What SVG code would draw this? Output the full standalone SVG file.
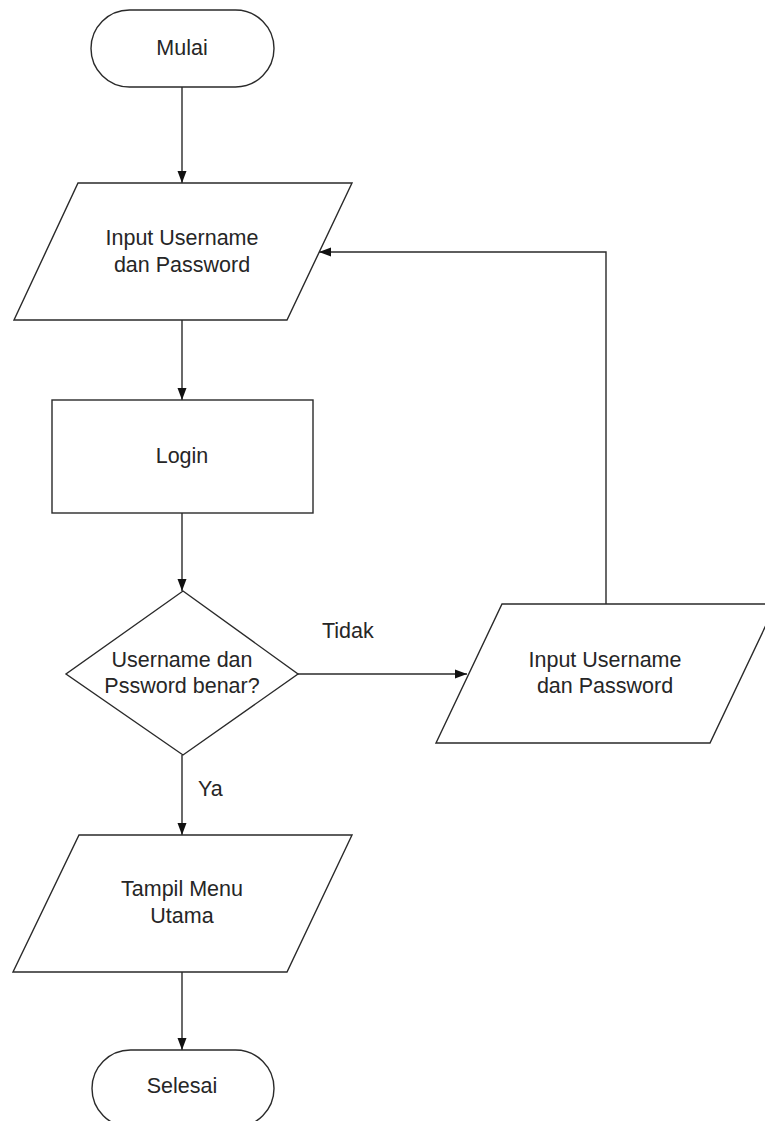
<svg xmlns="http://www.w3.org/2000/svg" width="765" height="1121" viewBox="0 0 765 1121">
<style>
.s{fill:#fff;stroke:#2a2a2a;stroke-width:1.4}
.t{font-family:"Liberation Sans",Arial,sans-serif;font-size:21.5px;fill:#262626;text-anchor:middle}
.l{font-family:"Liberation Sans",Arial,sans-serif;font-size:21.5px;fill:#262626}
.c{fill:none;stroke:#2a2a2a;stroke-width:1.4}
</style>
<defs>
<marker id="a" markerWidth="12" markerHeight="10" refX="12" refY="5" orient="auto" markerUnits="userSpaceOnUse">
<path d="M0,0.5 L12,5 L0,9.5 Z" fill="#111"/>
</marker>
</defs>
<rect width="765" height="1121" fill="#fff"/>
<g id="connectors">
<line class="c" x1="182" y1="87" x2="182" y2="183" marker-end="url(#a)"/>
<line class="c" x1="182" y1="320" x2="182" y2="400" marker-end="url(#a)"/>
<line class="c" x1="182" y1="513" x2="182" y2="591" marker-end="url(#a)"/>
<line class="c" x1="298" y1="674" x2="467" y2="674" marker-end="url(#a)"/>
<polyline class="c" points="606,604 606,252 319,252" marker-end="url(#a)"/>
<line class="c" x1="182" y1="755" x2="182" y2="835" marker-end="url(#a)"/>
<line class="c" x1="182" y1="972" x2="182" y2="1050" marker-end="url(#a)"/>
<text class="l" x="322" y="638">Tidak</text>
<text class="l" x="198" y="796">Ya</text>
</g>
<g id="mulai">
<rect class="s" x="91" y="10" width="183" height="77" rx="38.5" ry="38.5"/>
<text class="t" x="182" y="55">Mulai</text>
</g>
<g id="input1">
<polygon class="s" points="78,183 352,183 287,320 14,320"/>
<text class="t" x="182" y="245">Input Username</text>
<text class="t" x="182" y="272">dan Password</text>
</g>
<g id="login">
<rect class="s" x="52" y="400" width="261" height="113"/>
<text class="t" x="182" y="463">Login</text>
</g>
<g id="decision">
<polygon class="s" points="183,591 298,674 183,755 66,674"/>
<text class="t" x="182" y="667">Username dan</text>
<text class="t" x="182" y="693">Pssword benar?</text>
</g>
<g id="input2">
<polygon class="s" points="502,604 776,604 710,743 436,743"/>
<text class="t" x="605" y="667">Input Username</text>
<text class="t" x="605" y="693">dan Password</text>
</g>
<g id="tampil">
<polygon class="s" points="79,835 352,835 287,972 13,972"/>
<text class="t" x="182" y="896">Tampil Menu</text>
<text class="t" x="182" y="923">Utama</text>
</g>
<g id="selesai">
<rect class="s" x="92" y="1050" width="182" height="77" rx="38.5" ry="38.5"/>
<text class="t" x="182" y="1093">Selesai</text>
</g>
</svg>
